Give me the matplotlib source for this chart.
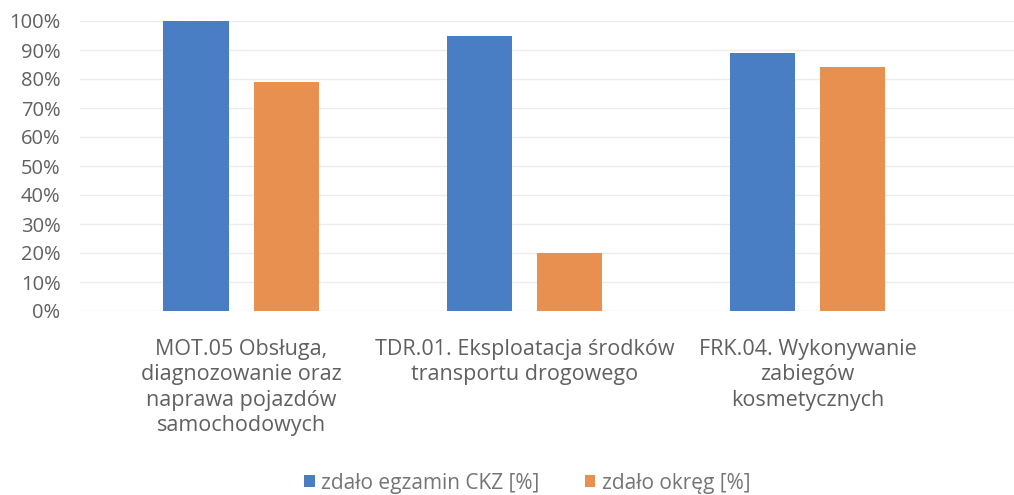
import matplotlib.pyplot as plt
from matplotlib.ticker import PercentFormatter

plt.rcParams['font.family'] = ['Open Sans', 'DejaVu Sans']

categories = [
    "MOT.05 Obsługa,\ndiagnozowanie oraz\nnaprawa pojazdów\nsamochodowych",
    "TDR.01. Eksploatacja środków\ntransportu drogowego",
    "FRK.04. Wykonywanie\nzabiegów\nkosmetycznych",
]
zdalo_ckz = [100, 95, 89]
zdalo_okreg = [79, 20, 84]

blue = "#4a7ec4"
orange = "#e8904f"
text_col = "#606060"

fig = plt.figure(figsize=(10.14, 4.95), dpi=100)
ax = fig.add_axes([80 / 1014, 1 - 311 / 495, (1014 - 80) / 1014, 290 / 495])

x = range(len(categories))
w = 0.23
off = 0.16
ax.bar([i - off for i in x], zdalo_ckz, w, color=blue, label="zdało egzamin CKZ [%]", zorder=2)
ax.bar([i + off for i in x], zdalo_okreg, w, color=orange, label="zdało okręg [%]", zorder=2)

ax.set_xlim(-0.57, 2.73)
ax.set_ylim(0, 100)
ax.set_yticks(range(0, 101, 10))
ax.yaxis.set_major_formatter(PercentFormatter(decimals=0))
ax.set_xticks(list(x))
ax.set_xticklabels(categories, fontsize=15.5, color=text_col, linespacing=1.28, va="top")
ax.tick_params(axis="y", labelsize=14.5, labelcolor=text_col, length=0, pad=14)
ax.tick_params(axis="x", length=0, pad=20)
ax.grid(axis="y", color="#ececec", linewidth=1, zorder=0)
for s in ax.spines.values():
    s.set_visible(False)

fig.legend(loc="lower center", bbox_to_anchor=(0.52, -0.035), ncol=2, frameon=False,
           fontsize=15, labelcolor="#757575", handlelength=0.5, handleheight=0.5,
           handletextpad=0.3, columnspacing=2.2)

fig.savefig("out.png", dpi=100)
